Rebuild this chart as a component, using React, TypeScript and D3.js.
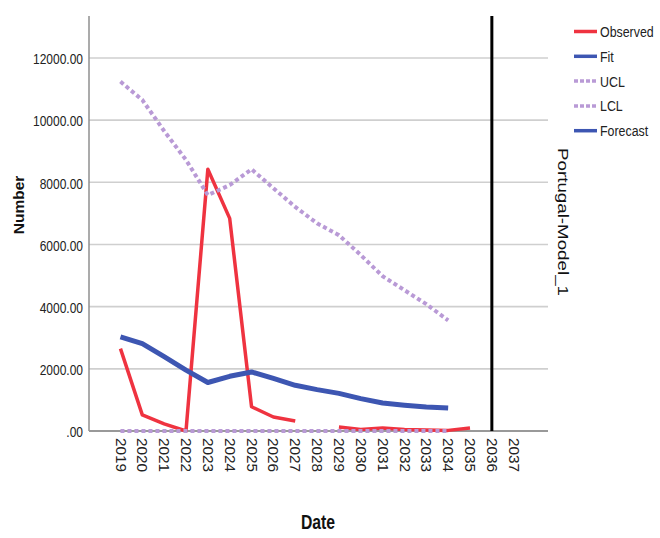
import React from "react";
import * as d3 from "d3";

// Series (annual)
const fitYears = d3.range(2019, 2035);
const fitValues = [3030, 2810, 2390, 1960, 1560, 1760, 1900, 1690, 1470, 1330, 1210, 1040, 900, 830, 775, 740];
const uclValues = [11240, 10650, 9650, 8720, 7590, 7910, 8420, 7810, 7210, 6680, 6300, 5660, 4980, 4530, 4080, 3560];
const lclValues = [0, 0, 0, 0, 0, 0, 0, 0, 0, 0, 0, 0, 0, 0, 0, 0];
const obsYears = d3.range(2019, 2036);
const obsValues: (number | null)[] = [2650, 520, 230, 0, 8420, 6840, 780, 450, 320, null, 130, 50, 100, 50, 30, 20, 100];

const xTickYears = d3.range(2019, 2038);
const yTicks = [0, 2000, 4000, 6000, 8000, 10000, 12000];
const forecastStart = 2036;

const legendItems = [
  { label: "Observed", color: "#ef3340", dashed: false },
  { label: "Fit", color: "#3d56b2", dashed: false },
  { label: "UCL", color: "#b99ad6", dashed: true },
  { label: "LCL", color: "#b99ad6", dashed: true },
  { label: "Forecast", color: "#3d56b2", dashed: false },
];

const W = 660;
const H = 538;
const plot = { left: 89, right: 548, top: 16, bottom: 431 };

const sans = "'Liberation Sans', Arial, sans-serif";
// horizontal squeeze giving a condensed face
const CONDENSE = 0.8;

export default function App() {
  const x = d3.scaleLinear().domain([2017.56, 2038.57]).range([plot.left, plot.right]);
  const y = d3.scaleLinear().domain([0, 13350]).range([plot.bottom, plot.top]);

  const line = d3
    .line<[number, number | null]>()
    .defined((d) => d[1] !== null)
    .x((d) => x(d[0]))
    .y((d) => y(d[1] as number));

  const obsPath = line(obsYears.map((yr, i) => [yr, obsValues[i]]));
  const fitPath = line(fitYears.map((yr, i) => [yr, fitValues[i]]));
  const uclPath = line(fitYears.map((yr, i) => [yr, uclValues[i]]));
  const lclPath = line(fitYears.map((yr, i) => [yr, lclValues[i]]));

  return (
    <svg width={W} height={H} style={{ position: "absolute", left: 0, top: 0, background: "#fff" }}>
      {/* horizontal grid */}
      {yTicks.filter((t) => t > 0).map((t) => (
        <line key={t} x1={plot.left} x2={plot.right} y1={y(t)} y2={y(t)} stroke="#cfcfcf" strokeWidth={1.6} />
      ))}
      {/* axes */}
      <line x1={plot.left} x2={plot.left} y1={plot.top} y2={plot.bottom} stroke="#8f8f8f" strokeWidth={1.5} />
      <line x1={plot.left} x2={plot.right} y1={plot.bottom} y2={plot.bottom} stroke="#999" strokeWidth={2} />

      {/* y tick labels */}
      {yTicks.map((t) => (
        <text
          key={t}
          transform={`translate(83,${y(t) + 1}) scale(${CONDENSE},1)`}
          dy="0.35em"
          textAnchor="end"
          fontFamily={sans}
          fontSize={15}
          fill="#222"
        >
          {t === 0 ? ".00" : t.toFixed(2)}
        </text>
      ))}

      {/* x tick labels */}
      {xTickYears.map((yr) => (
        <text
          key={yr}
          transform={`translate(${x(yr)},438) rotate(90)`}
          dy="0.35em"
          fontFamily={sans}
          fontSize={14}
          fill="#222"
          textLength={34}
          lengthAdjust="spacingAndGlyphs"
        >
          {yr}
        </text>
      ))}

      {/* series */}
      <path d={obsPath ?? ""} fill="none" stroke="#ef3340" strokeWidth={3.5} strokeLinejoin="round" />
      <path d={fitPath ?? ""} fill="none" stroke="#3d56b2" strokeWidth={5} strokeLinejoin="round" />
      <path d={uclPath ?? ""} fill="none" stroke="#b99ad6" strokeWidth={4} strokeDasharray="4 3" />
      <path d={lclPath ?? ""} fill="none" stroke="#b99ad6" strokeWidth={4} strokeDasharray="4 3" />

      {/* forecast origin */}
      <line x1={x(forecastStart)} x2={x(forecastStart)} y1={plot.top} y2={plot.bottom} stroke="#000" strokeWidth={3} />

      {/* axis titles */}
      <text transform="translate(24,205) rotate(-90)" textAnchor="middle" fontFamily={sans} fontWeight="bold" fontSize={15.5} fill="#111">
        Number
      </text>
      <text transform={`translate(318,529) scale(0.75,1)`} textAnchor="middle" fontFamily={sans} fontWeight="bold" fontSize={21} fill="#111">
        Date
      </text>
      <text transform="translate(558,148) rotate(90)" fontFamily={sans} fontSize={15} fill="#111" textLength={148} lengthAdjust="spacingAndGlyphs">
        Portugal-Model_1
      </text>

      {/* legend */}
      {legendItems.map((item, i) => {
        const cy = 31.5 + i * 24.8;
        return (
          <g key={item.label}>
            <line
              x1={574}
              x2={597}
              y1={cy}
              y2={cy}
              stroke={item.color}
              strokeWidth={3.5}
              strokeDasharray={item.dashed ? "4 2" : undefined}
            />
            <text
              transform={`translate(600,${cy}) scale(${CONDENSE},1)`}
              dy="0.36em"
              fontFamily={sans}
              fontSize={15.5}
              fill="#222"
            >
              {item.label}
            </text>
          </g>
        );
      })}
    </svg>
  );
}
